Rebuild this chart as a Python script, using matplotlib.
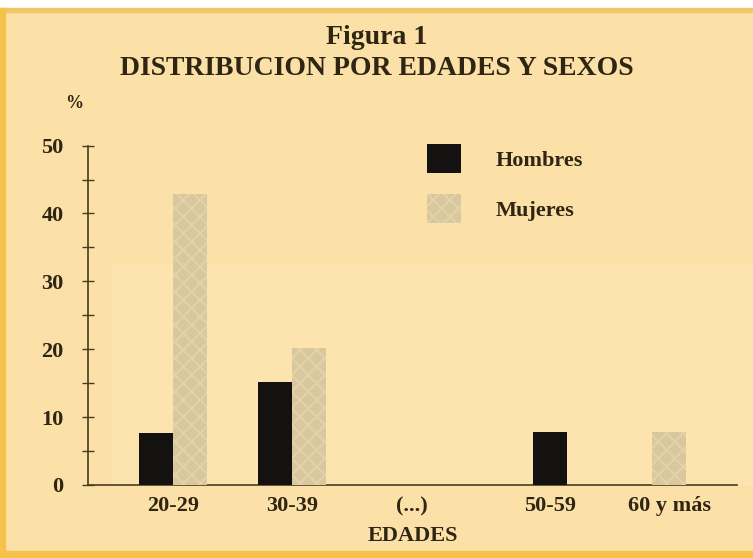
import matplotlib.pyplot as plt
from matplotlib.patches import Patch, Rectangle
import numpy as np

categories = ['20-29', '30-39', '(...)', '50-59', '60 y más']
hombres = [7.7, 15.2, np.nan, 7.8, np.nan]
mujeres = [42.8, 20.2, np.nan, np.nan, 7.8]

plt.rcParams['font.family'] = ['Liberation Serif', 'DejaVu Serif']
plt.rcParams['font.weight'] = 'bold'

bg = '#fbe0a8'
ink = '#2e2512'
black_bar = '#141210'
beige_bar = '#d9c79d'
hatch_col = '#e2d2aa'

fig = plt.figure(figsize=(7.53, 5.58), dpi=100, facecolor=bg)

# page edges of the scan + lighter zone
edges = [((0, 0.985), 1, 0.015, 'white'),
         ((0, 0.979), 1, 0.006, '#f3c766'),
         ((0, 0.0), 1, 0.012, '#f6c24c'),
         ((0, 0.0), 0.007, 0.985, '#f6c24c'),
         ((0.149, 0.131), 0.85, 0.395, '#fde4ae')]
for xy, wd, ht, c in edges:
    fig.patches.append(Rectangle(xy, wd, ht, transform=fig.transFigure, color=c, zorder=-5))

ax = fig.add_axes([0.1169, 0.131, 0.862, 0.608])
ax.set_facecolor('none')

# group centres (the lone bars of the last two groups sit centred on their label)
pos = np.array([0, 1, 2, 3.16, 4.16])
w = 0.286
both = ~np.isnan(hombres) & ~np.isnan(mujeres)
xh = np.where(both, pos - w / 2, pos)
xm = np.where(both, pos + w / 2, pos)

plt.rcParams['hatch.linewidth'] = 1.6
ax.bar(xh, hombres, w, color=black_bar, label='Hombres', zorder=3)
ax.bar(xm, mujeres, w, color=beige_bar, edgecolor=hatch_col, hatch='xx', linewidth=0,
       label='Mujeres', zorder=3)

ax.set_xlim(-0.714, 4.73)
ax.set_ylim(0, 50)
ax.set_xticks(pos)
ax.set_xticklabels(categories, fontsize=16, color=ink, fontweight='bold')
ax.set_yticks(range(0, 51, 10))
ax.set_yticks(range(5, 50, 10), minor=True)
ax.tick_params(axis='y', which='both', direction='inout', length=9, width=1, color='#4a3b1e',
               labelsize=16, labelcolor=ink, pad=13)
ax.tick_params(axis='x', length=0, pad=8)
for s in ['top', 'right']:
    ax.spines[s].set_visible(False)
for s in ['left', 'bottom']:
    ax.spines[s].set_color('#4a3b1e')
    ax.spines[s].set_linewidth(1.2)
ax.set_xlabel('EDADES', fontsize=16, color=ink, fontweight='bold', labelpad=7)

fig.text(0.098, 0.815, '%', fontsize=13, color=ink, ha='center', va='center')
fig.text(0.5, 0.932, 'Figura 1', fontsize=20, color=ink, ha='center', va='center')
fig.text(0.5, 0.877, 'DISTRIBUCION POR EDADES Y SEXOS', fontsize=20, color=ink, ha='center', va='center')

handles = [Patch(facecolor=black_bar, label='Hombres'),
           Patch(facecolor=beige_bar, edgecolor=hatch_col, hatch='xx', linewidth=0, label='Mujeres')]
leg = ax.legend(handles=handles, loc='upper left', bbox_to_anchor=(0.509, 1.03), frameon=False,
                fontsize=16, handlelength=1.53, handleheight=1.62, handletextpad=1.55,
                labelspacing=0.95, borderaxespad=0)
for t in leg.get_texts():
    t.set_color(ink)

fig.savefig('out.png', dpi=100, facecolor=bg)
